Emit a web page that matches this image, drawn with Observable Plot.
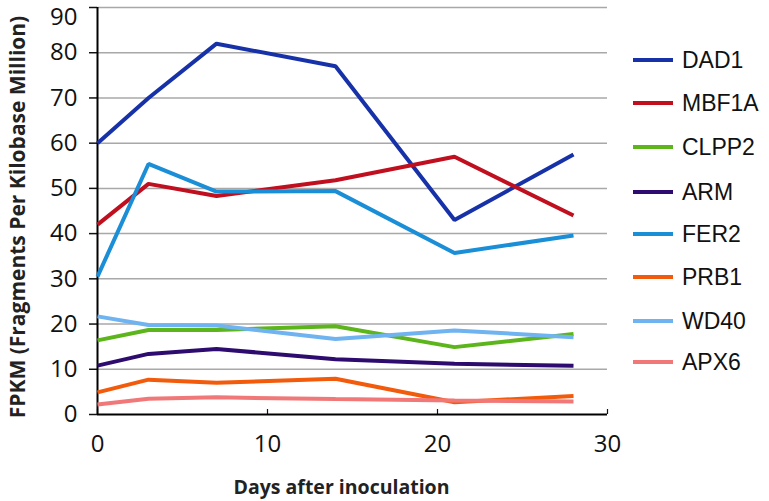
<!DOCTYPE html>
<html>
<head>
<meta charset="utf-8">
<script src="https://cdn.jsdelivr.net/npm/d3@7"></script>
<script src="https://cdn.jsdelivr.net/npm/@observablehq/plot@0.6"></script>
<style>
  html, body { margin: 0; padding: 0; background: #fff; }
  #wrap { position: relative; width: 769px; height: 501px; }
  #legend { position: absolute; left: 633px; top: 0; font-family: "Liberation Sans", Arial, sans-serif; font-size: 23px; color: #111; }
  .item { position: absolute; left: 0; height: 30px; display: flex; align-items: center; white-space: nowrap; }
  .sw { width: 40px; height: 4px; margin-right: 9px; }
</style>
</head>
<body>
<div id="wrap"><div id="legend"></div></div>
<script>
const days = [0, 3, 7, 14, 21, 28];
const seriesNames = ["DAD1", "MBF1A", "CLPP2", "ARM", "FER2", "PRB1", "WD40", "APX6"];
const DAD1  = [60, 70, 82, 77, 43, 57.5];
const MBF1A = [42, 51, 48.3, 51.8, 57, 44];
const CLPP2 = [16.4, 18.7, 18.7, 19.5, 14.9, 17.8];
const ARM   = [10.8, 13.4, 14.5, 12.2, 11.2, 10.8];
const FER2  = [30.5, 55.4, 49.3, 49.4, 35.7, 39.6];
const PRB1  = [4.9, 7.7, 7.0, 7.9, 2.7, 4.1];
const WD40  = [21.7, 19.8, 19.7, 16.7, 18.6, 17.1];
const APX6  = [2.2, 3.5, 3.8, 3.4, 3.1, 2.9];
const colors = ["#1732a8", "#c00f1e", "#5cb51a", "#2e0b6e", "#1a8ed6", "#f25a0c", "#6fb3f0", "#f07878"];
const yTicks = [0, 10, 20, 30, 40, 50, 60, 70, 80, 90];
const xTicks = [0, 10, 20, 30];
const yTitle = "FPKM (Fragments Per Kilobase Million)";
const xTitle = "Days after inoculation";

const values = [DAD1, MBF1A, CLPP2, ARM, FER2, PRB1, WD40, APX6];
const rows = [];
seriesNames.forEach((name, i) => days.forEach((d, j) => rows.push({gene: name, day: d, fpkm: values[i][j]})));

const topTick = yTicks[yTicks.length - 1];

const chart = Plot.plot({
  width: 769,
  height: 501,
  marginLeft: 97,
  marginRight: 162,
  marginTop: 7,
  marginBottom: 87,
  style: {fontFamily: "'Open Sans', sans-serif", fontSize: "24px", color: "#111", background: "#fff"},
  x: {domain: [0, 30]},
  y: {domain: [0, 90]},
  color: {domain: seriesNames, range: colors},
  marks: [
    Plot.gridY(yTicks.filter(t => t > 0), {stroke: "#a8a8a8", strokeOpacity: 1, strokeWidth: 1.5}),
    Plot.axisY({ticks: yTicks.filter(t => t !== topTick), tickSize: 8, tickPadding: 12, label: null, strokeWidth: 1.5}),
    Plot.axisY({ticks: [topTick], tickSize: 8, tickPadding: 12, label: null, strokeWidth: 1.5, text: null}),
    Plot.axisY({ticks: [topTick], tickSize: 0, tickPadding: 20, label: null, dy: 10}),
    Plot.axisX({ticks: xTicks, tickSize: -5, tickPadding: 25, label: null, strokeWidth: 1.2}),
    Plot.ruleX([0], {stroke: "#000", strokeWidth: 2}),
    Plot.ruleY([0], {stroke: "#000", strokeWidth: 2}),
    Plot.line(rows, {x: "day", y: "fpkm", z: "gene", stroke: "gene", strokeWidth: 4, strokeLinejoin: "miter", strokeLinecap: "butt"}),
    Plot.text([yTitle], {frameAnchor: "left", rotate: -90, dx: -79, dy: 6, textAnchor: "middle", fontWeight: "bold", fontSize: 21, fill: "#222"}),
    Plot.text([xTitle], {frameAnchor: "bottom", dx: -11, dy: 79, textAnchor: "middle", fontWeight: "bold", fontSize: 19.5, fill: "#222"})
  ]
});
document.getElementById("wrap").prepend(chart);

const legendY = [60, 103, 147, 192, 234, 277, 321, 362];
const legend = document.getElementById("legend");
seriesNames.forEach((name, i) => {
  const it = document.createElement("div");
  it.className = "item";
  it.style.top = (legendY[i] - 15) + "px";
  const sw = document.createElement("span");
  sw.className = "sw";
  sw.style.background = colors[i];
  const tx = document.createElement("span");
  tx.textContent = name;
  it.appendChild(sw); it.appendChild(tx);
  legend.appendChild(it);
});
</script>
</body>
</html>
